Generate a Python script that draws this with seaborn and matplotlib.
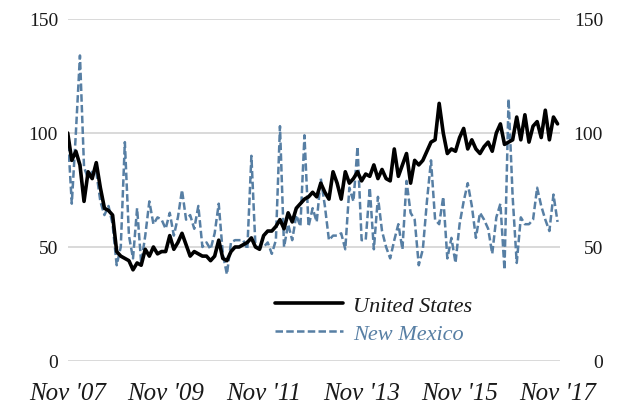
import numpy as np
import pandas as pd
import matplotlib
matplotlib.use("Agg")
import matplotlib.pyplot as plt
import seaborn as sns

# Monthly index values, Nov 2007 .. Nov 2017
us_values = [100, 88, 92, 86, 70, 83, 80, 87, 76, 67, 66, 64, 48, 46, 45, 44, 40, 43, 42, 49,
             46, 50, 47, 48, 48, 55, 49, 52, 56, 51, 46, 48, 47, 46, 46, 44, 46, 53, 45, 44,
             48, 50,
             50, 51, 52, 54, 50, 49, 55, 57, 57, 59, 62, 58, 65, 61, 67, 69, 71, 72, 74, 72,
             78, 74, 71, 83, 78, 71, 83, 78, 80, 83, 79, 82, 81, 86, 80, 84, 80, 79, 93, 81,
             86, 91, 78, 88, 86, 88, 92, 96, 97, 113, 100, 91, 93, 92, 98, 102, 93, 97, 93, 91,
             94, 96, 92, 100, 104, 95, 96, 97, 107, 97, 108, 96, 103, 105, 98, 110, 97, 107, 104]
nm_values = [100, 69, 100, 134, 85, 80, 83, 83, 70, 64, 68, 60, 42, 50, 96, 55, 45, 67, 43, 55,
             70, 60, 63, 62, 58, 65, 55, 63, 75, 62, 64, 58, 68, 50, 52, 49, 56, 69, 47, 38,
             52, 53,
             53, 53, 49, 90, 50, 50, 50, 52, 47, 53, 103, 50, 60, 53, 64, 59, 99, 59, 67, 61,
             80, 68, 53, 55, 55, 56, 49, 76, 70, 94, 53, 53, 76, 49, 72, 57, 50, 45, 53, 60,
             49, 79, 65, 62, 42, 49, 70, 88, 62, 60, 72, 45, 54, 43, 60, 70, 78, 68, 54, 65,
             62, 58, 47, 63, 69, 40, 115, 72, 43, 63, 60, 60, 62, 76, 68, 62, 57, 73, 61]
series_names = ["United States", "New Mexico"]
tick_months = [0, 24, 48, 72, 96, 120]
tick_labels = ["Nov '07", "Nov '09", "Nov '11", "Nov '13", "Nov '15", "Nov '17"]
y_ticks = [0, 50, 100, 150]

months = np.arange(len(us_values))
df = pd.DataFrame({"month": months, "us": us_values, "nm": nm_values})

sns.set_style("white")
plt.rcParams["font.family"] = ["Liberation Serif", "DejaVu Serif"]

W, H = 623, 406
fig = plt.figure(figsize=(W / 100, H / 100), dpi=100)
left, right, top, bottom = 67.7, 560, 20, 362
ax = fig.add_axes([left / W, 1 - bottom / H, (right - left) / W, (bottom - top) / H])

nm_color = "#577fa4"
sns.lineplot(data=df, x="month", y="nm", ax=ax, color=nm_color, linewidth=1.8,
             linestyle=(0, (3, 1.3)), label=series_names[1], zorder=3)
sns.lineplot(data=df, x="month", y="us", ax=ax, color="black", linewidth=2.6,
             label=series_names[0], zorder=4)

ax.set_xlim(0, 120.6)
ax.set_ylim(0, 150)
ax.set_yticks(y_ticks)
ax.set_xticks(tick_months)
ax.set_xticklabels(tick_labels, fontstyle="italic", fontsize=18)
ax.set_xlabel("")
ax.set_ylabel("")
ax.grid(axis="y", color="#d9d9d9", linewidth=1.4, zorder=0)
ax.grid(axis="x", visible=False)
ax.set_axisbelow(True)
for s in ax.spines.values():
    s.set_visible(False)
ax.tick_params(axis="y", length=0, pad=7, labelsize=14, labelcolor="#1a1a1a")
ax.tick_params(axis="x", length=0, pad=15, labelcolor="#1a1a1a")

ax2 = ax.twinx()
ax2.set_ylim(0, 150)
ax2.set_yticks(y_ticks)
ax2.tick_params(axis="y", length=0, pad=31, labelsize=14, labelcolor="#1a1a1a")
for lbl in ax2.get_yticklabels():
    lbl.set_ha("right")
for s in ax2.spines.values():
    s.set_visible(False)
ax2.grid(False)

handles, labels = ax.get_legend_handles_labels()
order = [labels.index(n) for n in series_names]
leg = ax.legend([handles[i] for i in order], [labels[i] for i in order],
                loc="upper left", bbox_to_anchor=(275 / W, 1 - 296 / H),
                bbox_transform=fig.transFigure, frameon=False, borderpad=0,
                borderaxespad=0, handlelength=3.05, handletextpad=0.45,
                labelspacing=0.36, prop={"style": "italic", "size": 16})
leg.get_texts()[0].set_color("#1a1a1a")
leg.get_texts()[1].set_color(nm_color)

fig.savefig("out.png", dpi=100)
